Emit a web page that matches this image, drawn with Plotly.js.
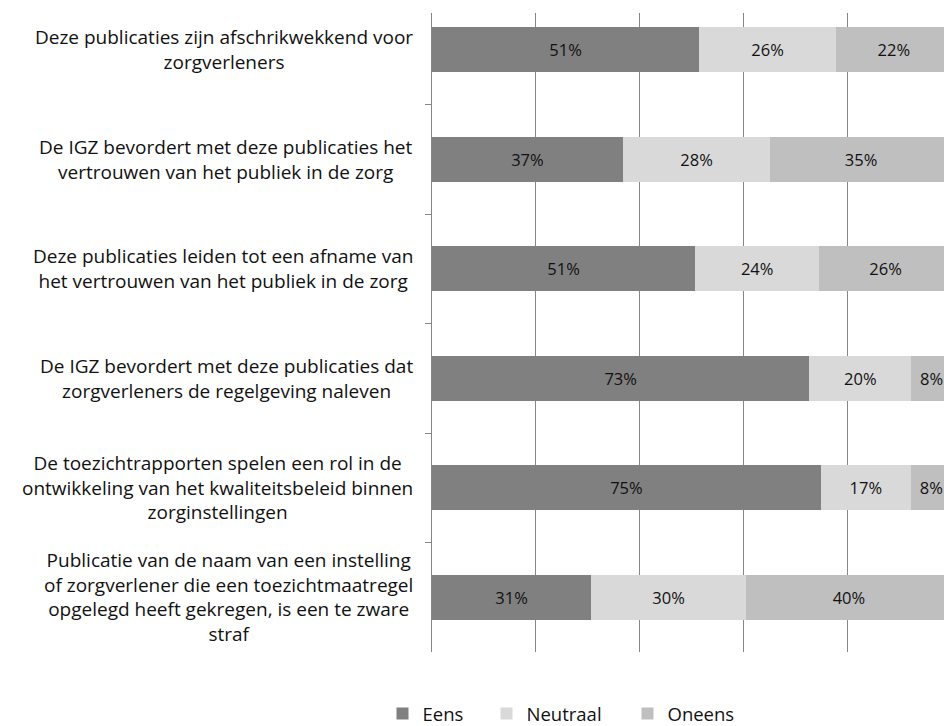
<!DOCTYPE html>
<html>
<head>
<meta charset="utf-8">
<script src="https://cdn.plot.ly/plotly-3.0.1.min.js"></script>
<style>
html,body{margin:0;padding:0;background:#fff;overflow:hidden;}
#chart{width:944px;height:726px;}
</style>
</head>
<body>
<div id="chart"></div>
<script>
var categories = [
  "Deze publicaties zijn afschrikwekkend voor<br>zorgverleners",
  "De IGZ bevordert met deze publicaties het<br>vertrouwen van het publiek in de zorg",
  "Deze publicaties leiden tot een afname van<br>het vertrouwen van het publiek in de zorg",
  "De IGZ bevordert met deze publicaties dat<br>zorgverleners de regelgeving naleven",
  "De toezichtrapporten spelen een rol in de<br>ontwikkeling van het kwaliteitsbeleid binnen<br>zorginstellingen",
  "Publicatie van de naam van een instelling<br>of zorgverlener die een toezichtmaatregel<br>opgelegd heeft gekregen, is een te zware<br>straf"
];
var seriesNames = ["Eens", "Neutraal", "Oneens"];
// segment lengths (percent)
var eens     = [51.4, 36.7, 50.6, 72.6, 74.8, 30.6];
var neutraal = [26.3, 28.4, 23.9, 19.6, 17.3, 29.8];
var oneens   = [22.3, 34.9, 25.5, 7.8, 7.9, 39.6];
// printed labels
var eensLabels     = ["51%", "37%", "51%", "73%", "75%", "31%"];
var neutraalLabels = ["26%", "28%", "24%", "20%", "17%", "30%"];
var oneensLabels   = ["22%", "35%", "26%", "8%", "8%", "40%"];
var colors = ["#808080", "#d9d9d9", "#bfbfbf"];

var FONT = "'Open Sans', Lato, sans-serif";
var XMAX = 98.5;
var ids = categories.map(function(c, i){ return "c" + i; });
var values = [eens, neutraal, oneens];
var labels = [eensLabels, neutraalLabels, oneensLabels];
var legendIds = ["legend", "legend2", "legend3"];

var traces = values.map(function(v, k){
  return {
    type: "bar",
    orientation: "h",
    name: seriesNames[k],
    y: ids,
    x: v,
    width: 0.41,
    marker: {color: colors[k], line: {width: 0}},
    text: labels[k],
    textposition: "inside",
    insidetextanchor: "middle",
    constraintext: "none",
    textfont: {family: FONT, size: 16.5, color: "#111"},
    hoverinfo: "none",
    legend: legendIds[k]
  };
});

var annotations = categories.map(function(c, i){
  return {
    xref: "paper", yref: "y",
    x: -17/512, y: ids[i],
    xanchor: "right", yanchor: "middle",
    align: "center",
    showarrow: false,
    text: c,
    font: {family: FONT, size: 19, color: "#111"}
  };
});

function legendAt(px){
  return {
    orientation: "h",
    x: (px - 432) / 512, xanchor: "left",
    y: (652 - 714) / 639, yanchor: "middle",
    font: {family: FONT, size: 18.5, color: "#111"},
    bgcolor: "rgba(0,0,0,0)",
    itemwidth: 30
  };
}

var layout = {
  width: 944, height: 726,
  margin: {l: 432, r: 0, t: 13, b: 74, pad: 0, autoexpand: false},
  paper_bgcolor: "#fff", plot_bgcolor: "#fff",
  barmode: "stack",
  showlegend: true,
  legend: legendAt(382.5),
  legend2: legendAt(486.5),
  legend3: legendAt(627.5),
  xaxis: {
    range: [0, XMAX],
    showgrid: true, gridcolor: "#868686", gridwidth: 1,
    dtick: 20, tick0: 0,
    showticklabels: false, ticks: "",
    zeroline: false, showline: false,
    fixedrange: true
  },
  yaxis: {
    type: "category",
    range: [5.5, -0.336],
    showticklabels: false,
    ticks: "outside", tickson: "boundaries", ticklen: 6,
    tickcolor: "#868686", tickwidth: 1,
    showline: true, linecolor: "#868686", linewidth: 1,
    showgrid: false, zeroline: false,
    fixedrange: true
  },
  annotations: annotations
};

Plotly.newPlot("chart", traces, layout, {displayModeBar: false, staticPlot: true});
</script>
</body>
</html>
